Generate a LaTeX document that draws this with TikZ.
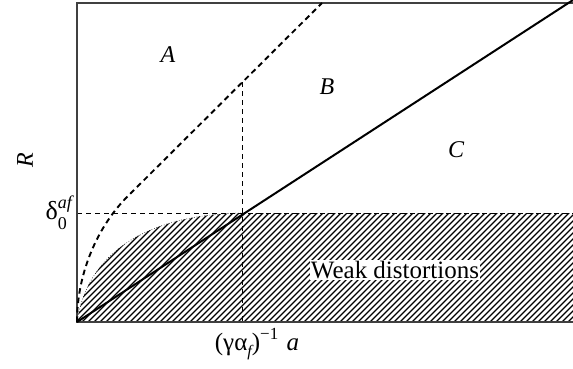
\documentclass[tikz,border=0pt]{standalone}
\usepackage{fontspec}
\setmainfont{Liberation Serif}
\begin{document}
\begin{tikzpicture}[x=1pt,y=-1pt,
  frame/.style={draw=black!75,line width=1.5pt},
  mainline/.style={draw=black,line width=2pt},
  dashcurve/.style={draw=black,line width=1.9pt,dash pattern=on 5.5pt off 4pt},
  guide/.style={draw=black,line width=1pt,dash pattern=on 5pt off 4pt},
  hatch/.style={draw=black,line width=1.3pt},
  lbl/.style={font=\fontsize{24}{28}\selectfont\itshape,inner sep=0pt},
  txt/.style={font=\fontsize{25}{29}\selectfont,inner sep=1pt,fill=white}]
\useasboundingbox (0,0) rectangle (573,368);
\coordinate (O) at (77,322);
\coordinate (TL) at (77,3);
\coordinate (TR) at (573,3);
\coordinate (BR) at (573,322);
\coordinate (K) at (241,213);
\coordinate (HL) at (77,213);
\coordinate (HR) at (573,213);
\coordinate (Vt) at (242,82);
\coordinate (Vb) at (242,322);
\coordinate (Dm) at (127,197);
\coordinate (Dt) at (322,3);
\coordinate (Sol) at (573,0);
% hatched region
\begin{scope}
  \clip (O) .. controls (88,250) and (150,215) .. (K) -- (HR) -- (BR) -- cycle;
  \foreach \i in {-60,-54,...,590} {
    \draw[hatch] (\i,326) -- ++(130,-130);
  }
\end{scope}
\draw[black,line width=0.6pt,dotted] (O) .. controls (88,250) and (150,215) .. (K);
% guides
\draw[guide] (HL) -- (HR);
\draw[guide] (Vt) -- (Vb);
% frame
\draw[frame] (TR) -- (TL) -- (O) -- (BR);
% curves
\draw[mainline] (O) -- (Sol);
\draw[dashcurve] (O) .. controls (77,270) and (100,224) .. (Dm) -- (Dt);
% labels
\node[lbl] (A) at (168,55) {A};
\node[lbl] (B) at (327,87) {B};
\node[lbl] (C) at (456,150) {C};
\node[lbl,rotate=90] (R) at (25,160) {R};
\node[font=\fontsize{26}{30}\selectfont,inner sep=0pt,anchor=east] (d) at (72,213)
  {δ\makebox[0pt][l]{\raisebox{-0.38em}{\fontsize{18}{21}\selectfont 0}}\raisebox{0.42em}{\fontsize{18}{21}\selectfont\itshape af}};
\node[font=\fontsize{25}{29}\selectfont,inner sep=0pt] (xl) at (257,344)
  {(γα\raisebox{-0.25em}{\fontsize{16}{19}\selectfont\itshape f})\raisebox{0.45em}{\fontsize{17}{20}\selectfont −1}\,\,\textit{a}};
\node[txt] (W) at (395,270) {Weak distortions};
\end{tikzpicture}
\end{document}
